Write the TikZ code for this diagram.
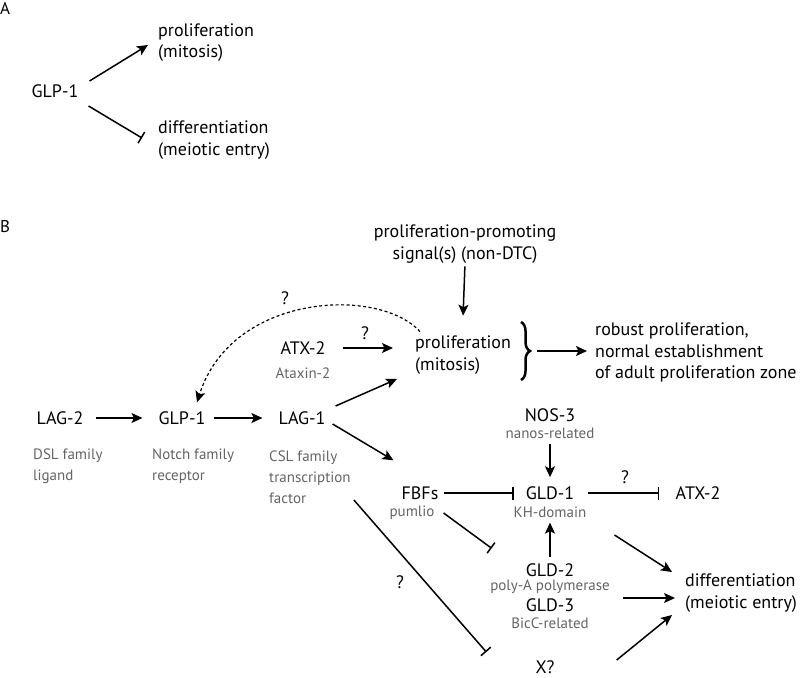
\documentclass[tikz,border=0pt]{standalone}
\usepackage{fontspec}
\setmainfont{PT Sans}
\usetikzlibrary{arrows.meta,decorations.pathreplacing}
\definecolor{soustexte}{RGB}{100,100,100}
\begin{document}
\begin{tikzpicture}[x=1pt,y=-1pt]
\tikzset{gros/.style={font=\fontsize{18}{21.5}\selectfont, inner sep=0pt},
petit/.style={font=\fontsize{15}{21}\selectfont, text=soustexte, inner sep=0pt},
lettre/.style={font=\fontsize{17}{20}\selectfont, inner sep=0pt},
fleche/.style={-{Stealth[length=11pt,width=10pt,inset=2.5pt]}, line width=1.5pt},
bloque/.style={-{Bar[width=13pt,line width=1.5pt]}, line width=1.5pt}}
\useasboundingbox (0,0) rectangle (800,677);
\node[lettre, anchor=west] (LA) at (0,8) {A};
\node[gros] (GLPa) at (55,91) {GLP-1};
\node[gros, anchor=west, align=left] (PROa) at (158,42.5) {proliferation\\(mitosis)};
\node[gros, anchor=west, align=left] (DIFa) at (158,140) {differentiation\\(meiotic entry)};
\draw[fleche] ([xshift=11pt,yshift=10pt]GLPa.east) -- ([xshift=-10pt,yshift=-2.5pt]PROa.west);
\draw[bloque] ([xshift=10pt,yshift=-15pt]GLPa.east) -- ([xshift=-16pt,yshift=2pt]DIFa.west);
\node[lettre, anchor=west] (LB) at (0,227) {B};
\node[gros, align=center] (SIG) at (465,244) {proliferation-promoting\\signal(s) (non-DTC)};
\node[gros, anchor=west, align=left] (PROb) at (415,355) {proliferation\\(mitosis)};
\node[gros, anchor=west, align=left] (ROB) at (595,352.5) {robust proliferation,\\normal establishment\\of adult proliferation zone};
\node[gros] (ATXa) at (303,348) {ATX-2};
\node[petit] (ATXan) at (303,373) {Ataxin-2};
\node[gros] (LAG2) at (60,418) {LAG-2};
\node[gros] (GLPb) at (182,418) {GLP-1};
\node[gros] (LAG1) at (302,418) {LAG-1};
\node[petit, anchor=west, align=left] (DSL) at (33,466.5) {DSL family\\ligand};
\node[petit, anchor=west, align=left] (NOTCH) at (152,466.5) {Notch family\\receptor};
\node[petit, anchor=west, align=left] (CSL) at (269,477) {CSL family\\transcription\\factor};
\node[gros] (NOS3) at (550,415) {NOS-3};
\node[petit] (NANOS) at (550,433) {nanos-related};
\node[gros] (FBF) at (420,493) {FBFs};
\node[petit] (PUM) at (412,513) {pumlio};
\node[gros] (GLD1) at (550,493) {GLD-1};
\node[petit] (KH) at (550,512) {KH-domain};
\node[gros] (ATXb) at (698,493) {ATX-2};
\node[gros] (GLD2) at (550,570) {GLD-2};
\node[petit] (POLY) at (550,587) {poly-A polymerase};
\node[gros] (GLD3) at (550,605) {GLD-3};
\node[petit] (BICC) at (550,623) {BicC-related};
\node[gros, anchor=west, align=left] (DIFb) at (685,593) {differentiation\\(meiotic entry)};
\node[gros] (XQ) at (545,667) {X?};
\node[gros] (Q1) at (285,298) {?};
\node[gros] (Q2) at (365,333) {?};
\node[gros] (Q3) at (625,477) {?};
\node[gros] (Q4) at (400,582) {?};
\coordinate (ACCh) at (521,322);
\coordinate (ACCb) at (521,380);
\coordinate (ACCp) at (537,351);
\draw[decorate, decoration={brace, amplitude=9pt}, line width=2.5pt] (ACCh) -- (ACCb);
\draw[fleche, shorten >=8pt] (ACCp) -- (ROB.west |- ACCp);
\draw[fleche, shorten <=3pt] (SIG.south) -- ([yshift=20pt]PROb.north);
\draw[fleche, dashed, line width=1.2pt, dash pattern=on 3pt off 2.5pt] ([xshift=5pt,yshift=4pt]PROb.north west) .. controls +(-40,-45) and +(35,-110) .. ([xshift=15pt,yshift=9pt]GLPb.north);
\draw[fleche, shorten <=17pt, shorten >=22pt] (ATXa.east) -- (PROb.west |- ATXa.east);
\draw[fleche] ([xshift=10pt,yshift=12pt]LAG1.east) -- ([xshift=-18pt,yshift=-24pt]PROb.west);
\draw[fleche, shorten <=12pt, shorten >=16pt] (LAG2) -- (GLPb);
\draw[fleche, shorten <=8pt, shorten >=16pt] (GLPb) -- (LAG1);
\draw[fleche] ([xshift=7pt,yshift=-6pt]LAG1.east) -- ([xshift=-8pt,yshift=26pt]FBF.north west);
\draw[fleche, shorten <=5pt, shorten >=9pt] (NANOS) -- (GLD1);
\draw[bloque, shorten <=5pt, shorten >=12pt] (FBF) -- (GLD1);
\draw[bloque, shorten <=14pt, shorten >=16pt] (GLD1) -- (ATXb);
\draw[bloque] ([xshift=9pt]PUM.east) -- ([xshift=-34pt,yshift=15pt]GLD2.north west);
\draw[fleche, shorten <=6pt, shorten >=5pt] (GLD2) -- (KH);
\draw[fleche] ([xshift=28pt,yshift=-23pt]KH.east) -- ([xshift=-13pt,yshift=21pt]DIFb.west);
\draw[fleche] ([xshift=13pt,yshift=-11pt]POLY.east) -- ([xshift=-10pt,yshift=-5pt]DIFb.west);
\draw[fleche] ([xshift=62pt,yshift=7pt]XQ.east) -- ([xshift=-13pt,yshift=-22pt]DIFb.west);
\draw[bloque] ([xshift=3pt,yshift=-23pt]CSL.east) -- ([xshift=-49pt,yshift=15pt]XQ.west);
\end{tikzpicture}
\end{document}
